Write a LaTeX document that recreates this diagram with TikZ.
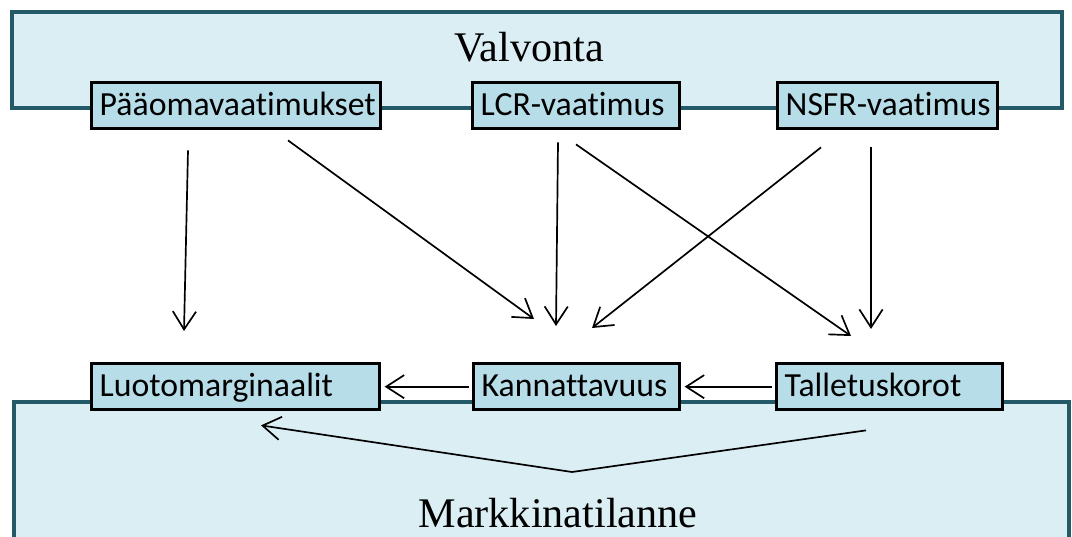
\documentclass[tikz,border=0pt]{standalone}
\usepackage{fontspec}
\setmainfont{Liberation Serif}
\newfontfamily\boxfont[Ligatures={NoCommon}]{Carlito}
\usetikzlibrary{arrows.meta}

\definecolor{rimteal}{RGB}{36,89,104}
\definecolor{paleblue}{RGB}{219,238,244}
\definecolor{boxblue}{RGB}{183,221,232}

\tikzset{
  lvl/.style={draw=rimteal, line width=2.6pt, fill=paleblue},
  req/.style={draw=black, line width=2.4pt, fill=boxblue, anchor=north west,
    inner xsep=0.2cm, inner ysep=0.2cm, text height=0.61cm, text depth=0.14cm,
    align=left, font=\boxfont\fontsize{24}{28}\selectfont},
  arr/.style={line width=1.2pt, -{Straight Barb[length=0.45cm,width=0.58cm]}}
}

\begin{document}
\begin{tikzpicture}[x=0.025cm,y=-0.025cm]
  \useasboundingbox (0,0) rectangle (1072,537);
  \clip (0,0) rectangle (1072,537);

  % the two levels
  \draw[lvl] (12,12) rectangle (1062,108);
  \draw[lvl] (14,402) rectangle (1069,580);
  \node[anchor=base] (valv) at (529,62) {\fontsize{30}{34}\selectfont Valvonta};
  \node[anchor=base] (mark) at (558,527) {\fontsize{30}{34}\selectfont Markkinatilanne};

  % requirements
  \node[req, text width=6.825cm] (paa) at (90,81) {\mbox{Pääomavaatimukset}};
  \node[req, text width=4.775cm] (lcr) at (471,81) {\mbox{LCR-vaatimus}};
  \node[req, text width=5.1cm] (nsfr) at (776,81) {\mbox{NSFR-vaatimus}};

  % effects
  \node[req, text width=6.8cm] (luo) at (90,362) {\mbox{Luotomarginaalit}};
  \node[req, text width=4.75cm] (kan) at (472,362) {\mbox{Kannattavuus}};
  \node[req, text width=5.25cm] (tal) at (775,362) {\mbox{Talletuskorot}};

  \path (paa.south west) ++(98,20) coordinate (paaL);
  \path (paa.south west) ++(198,10) coordinate (paaR);
  \path (lcr.south west) ++(87,12) coordinate (lcrL);
  \path (lcr.south west) ++(105,14) coordinate (lcrR);
  \path (nsfr.south west) ++(45,17) coordinate (nsfrL);
  \path (nsfr.south west) ++(95,17) coordinate (nsfrR);
  \path (luo.north west) ++(94,-31) coordinate (luoT);
  \path (kan.north west) ++(62,-43) coordinate (kanL);
  \path (kan.north west) ++(84,-36) coordinate (kanM);
  \path (kan.north west) ++(120,-34) coordinate (kanR);
  \path (tal.north west) ++(76,-26) coordinate (talL);
  \path (tal.north west) ++(96,-33) coordinate (talR);
  \path (tal.south west) ++(91,19) coordinate (talB);
  \path (luo.south west) ++(171,14) coordinate (luoB);
  \coordinate (bend) at (572,472);

  \draw[arr] (paaL) -- (luoT);
  \draw[arr] (paaR) -- (kanL);
  \draw[arr] (lcrL) -- (kanM);
  \draw[arr] (lcrR) -- (talL);
  \draw[arr] (nsfrL) -- (kanR);
  \draw[arr] (nsfrR) -- (talR);
  \draw[arr, shorten <=0.08cm, shorten >=0.08cm] (tal.west) -- (kan.east);
  \draw[arr, shorten <=0.08cm, shorten >=0.08cm] (kan.west) -- (luo.east);
  \draw[arr] (talB) -- (bend) -- (luoB);
\end{tikzpicture}
\end{document}
